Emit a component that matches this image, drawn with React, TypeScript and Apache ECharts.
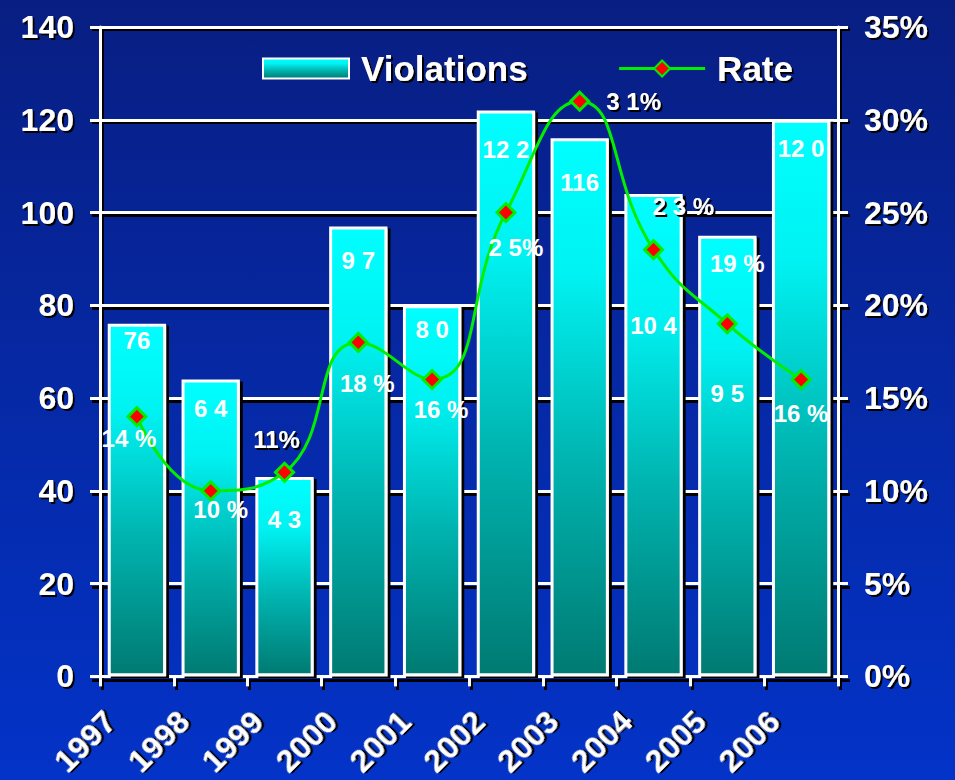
import React, { useEffect, useRef } from 'react';
import * as echarts from 'echarts';

const years = ['1997', '1998', '1999', '2000', '2001', '2002', '2003', '2004', '2005', '2006'];
const violations = [76, 64, 43, 97, 80, 122, 116, 104, 95, 120];
const violationLabels = ['76', '6 4', '4 3', '9 7', '8 0', '12 2', '116', '10 4', '9 5', '12 0'];
const rates = [0.14, 0.10, 0.11, 0.18, 0.16, 0.25, 0.31, 0.23, 0.19, 0.16];
const rateLabels = ['14 %', '10 %', '11%', '18 %', '16 %', '2 5%', '3 1%', '2 3 %', '19 %', '16 %'];

// label layout (presentation only)
const barLabelDy = [0, 12, 26, 17, 7, 22, 27, 115, 141, 12];
const rateLabelOffset = [[-8, 22], [10, 19], [-8, -33], [9, 41], [9, 30], [10, 35], [54, 0], [30, -43], [10, -60], [0, 34]];
const rateLabelOutside = [false, false, true, false, false, false, true, true, false, false];

const FONT = '"Liberation Sans", Arial, sans-serif';
const shadowText = {
  textShadowColor: '#000',
  textShadowOffsetX: 2,
  textShadowOffsetY: 2,
  textShadowBlur: 1,
};

function valueAxes(color: string, withLabels: boolean, gridIndex: number, z: number) {
  const line = { color, width: 3 };
  const label = {
    show: withLabels,
    margin: 26,
    color: '#fff',
    fontSize: 32,
    fontWeight: 'bold',
    fontFamily: FONT,
    ...shadowText,
  };
  return [
    {
      type: 'value',
      gridIndex,
      z,
      min: 0,
      max: 140,
      interval: 20,
      axisLine: { show: true, lineStyle: line },
      axisTick: { show: true, length: 10, lineStyle: line },
      splitLine: { show: true, lineStyle: line },
      axisLabel: label,
    },
    {
      type: 'value',
      gridIndex,
      z,
      min: 0,
      max: 0.35,
      interval: 0.05,
      position: 'right',
      axisLine: { show: true, lineStyle: line },
      axisTick: { show: true, length: 10, lineStyle: line },
      splitLine: { show: false },
      axisLabel: { ...label, formatter: (v: number) => Math.round(v * 100) + '%' },
    },
  ];
}

function categoryAxis(color: string, withLabels: boolean, gridIndex: number, z: number) {
  const line = { color, width: 3 };
  return {
    type: 'category',
    gridIndex,
    z,
    data: years,
    boundaryGap: true,
    axisLine: { show: true, lineStyle: line },
    axisTick: { show: true, length: 10, alignWithLabel: false, lineStyle: line },
    axisLabel: {
      show: withLabels,
      rotate: 45,
      margin: 13,
      padding: [0, 38, 0, 0],
      color: '#fff',
      fontSize: 32,
      fontWeight: 'bold',
      fontFamily: FONT,
      interval: 0,
      ...shadowText,
    },
    splitLine: { show: false },
  };
}

export default function App() {
  const ref = useRef<HTMLDivElement>(null);
  useEffect(() => {
    if (!ref.current) return;
    const chart = echarts.init(ref.current, null, { renderer: 'svg' });
    const barColor = new echarts.graphic.LinearGradient(0, 0, 0, 1, [
      { offset: 0, color: '#00ffff' },
      { offset: 0.25, color: '#00f2f2' },
      { offset: 0.6, color: '#00b4b0' },
      { offset: 1, color: '#007a72' },
    ]);
    chart.setOption({
      animation: false,
      backgroundColor: new echarts.graphic.LinearGradient(0, 0, 0, 1, [
        { offset: 0, color: '#081e82' },
        { offset: 1, color: '#0333c8' },
      ]),
      textStyle: { fontFamily: FONT },
      legend: {
        data: [
          { name: 'Violations', icon: 'rect' },
          { name: 'Rate', lineStyle: { width: 3 } },
        ],
        left: 262,
        top: 51,
        padding: 0,
        itemWidth: 86,
        itemHeight: 20,
        itemGap: 90,
        textStyle: {
          color: '#fff',
          fontSize: 35,
          fontWeight: 'bold',
          fontFamily: FONT,
          padding: [0, 0, 0, 7],
          ...shadowText,
        },
      },
      grid: [
        { left: 102, right: 115, top: 29, bottom: 100, containLabel: false },
        { left: 100, right: 117, top: 27, bottom: 102, containLabel: false },
      ],
      xAxis: [categoryAxis('#000', false, 0, 0), categoryAxis('#fff', true, 1, 1)],
      yAxis: [...valueAxes('#000', false, 0, 0), ...valueAxes('#fff', true, 1, 1)],
      series: [
        {
          name: 'Violations',
          type: 'bar',
          xAxisIndex: 1,
          yAxisIndex: 2,
          barCategoryGap: '21%',
          itemStyle: {
            color: barColor,
            borderColor: '#fff',
            borderWidth: 3,
            shadowColor: '#000',
            shadowOffsetX: 3,
            shadowOffsetY: 2,
            shadowBlur: 1,
          },
          data: violations.map((v, i) => ({
            value: v,
            label: {
              show: true,
              position: 'insideTop',
              offset: [0, barLabelDy[i]],
              formatter: violationLabels[i],
              color: '#fff',
              fontSize: 24,
              fontWeight: 'bold',
              fontFamily: FONT,
            },
          })),
          z: 2,
        },
        {
          name: 'Rate',
          type: 'line',
          xAxisIndex: 1,
          yAxisIndex: 3,
          smooth: 0.5,
          symbol: 'diamond',
          symbolSize: 18,
          lineStyle: { color: '#00ee00', width: 3 },
          itemStyle: { color: '#ff0000', borderColor: '#00ee00', borderWidth: 3 },
          data: rates.map((r, i) => ({
            value: r,
            label: {
              show: true,
              position: 'inside',
              offset: rateLabelOffset[i],
              formatter: rateLabels[i],
              color: '#fff',
              fontSize: 24,
              fontWeight: 'bold',
              fontFamily: FONT,
              ...(rateLabelOutside[i] ? shadowText : {}),
            },
          })),
          z: 5,
        },
      ],
    });
    return () => chart.dispose();
  }, []);
  return (
    <div
      ref={ref}
      style={{ position: 'absolute', left: 0, top: 0, width: 955, height: 780 }}
    />
  );
}
